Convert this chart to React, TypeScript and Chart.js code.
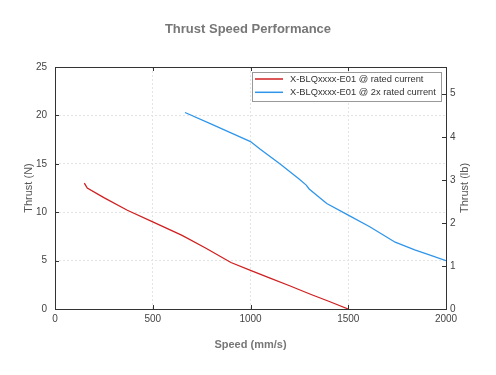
import { useEffect, useRef } from "react";
import { Chart, registerables } from "chart.js";

Chart.register(...registerables);

const chartTitle = "Thrust Speed Performance";
const xTitle = "Speed (mm/s)";
const yTitle = "Thrust (N)";
const y2Title = "Thrust (lb)";

const seriesLabels = [
  "X-BLQxxxx-E01 @ rated current",
  "X-BLQxxxx-E01 @ 2x rated current",
];
const seriesColors = ["#d01f1f", "#2f95ea"];

const ratedSpeed = [150, 165, 250, 370, 500, 650, 770, 900, 1000, 1100, 1200, 1310, 1400, 1500];
const ratedThrust = [13.0, 12.5, 11.5, 10.2, 9.0, 7.6, 6.3, 4.8, 4.0, 3.2, 2.4, 1.5, 0.8, 0.0];

const doubleSpeed = [665, 800, 900, 1000, 1050, 1150, 1250, 1285, 1300, 1390, 1500, 1610, 1740, 1840, 1900, 2000];
const doubleThrust = [20.3, 19.1, 18.2, 17.3, 16.5, 15.0, 13.4, 12.8, 12.4, 10.9, 9.7, 8.5, 6.9, 6.1, 5.7, 5.0];

const xTicks = [0, 500, 1000, 1500, 2000];
const yTicks = [0, 5, 10, 15, 20, 25];
const lbTicks = [0, 1, 2, 3, 4, 5];
const N_PER_LB = 4.44822;

const FONT = "Arial, 'Liberation Sans', sans-serif";

export default function App() {
  const ref = useRef<HTMLCanvasElement>(null);

  useEffect(() => {
    const canvas = ref.current;
    if (!canvas) return;

    const decor = {
      id: "decor",
      afterDatasetsDraw(chart: any) {
        const ctx = chart.ctx;
        const a = chart.chartArea;
        const sx = chart.scales.x;
        const sy = chart.scales.y;
        const sy2 = chart.scales.y2;
        ctx.save();
        // frame
        ctx.strokeStyle = "#333";
        ctx.lineWidth = 1;
        ctx.setLineDash([]);
        ctx.strokeRect(Math.round(a.left) + 0.5, Math.round(a.top) + 0.5, Math.round(a.right - a.left), Math.round(a.bottom - a.top));
        // inner tick marks
        const tl = 4;
        ctx.beginPath();
        xTicks.forEach((v) => {
          const px = Math.round(sx.getPixelForValue(v)) + 0.5;
          ctx.moveTo(px, a.bottom);
          ctx.lineTo(px, a.bottom - tl);
          ctx.moveTo(px, a.top);
          ctx.lineTo(px, a.top + tl);
        });
        yTicks.forEach((v) => {
          const py = Math.round(sy.getPixelForValue(v)) + 0.5;
          ctx.moveTo(a.left, py);
          ctx.lineTo(a.left + tl, py);
        });
        lbTicks.forEach((v) => {
          const py = Math.round(sy2.getPixelForValue(v)) + 0.5;
          ctx.moveTo(a.right, py);
          ctx.lineTo(a.right - tl, py);
        });
        ctx.stroke();

        // legend
        const bx = 252, by = 72, bw = 189, bh = 29;
        ctx.fillStyle = "#fff";
        ctx.fillRect(bx, by, bw, bh);
        ctx.strokeStyle = "#999";
        ctx.strokeRect(bx + 0.5, by + 0.5, bw, bh);
        ctx.font = `9.3px ${FONT}`;
        ctx.textBaseline = "middle";
        ctx.textAlign = "left";
        chart.data.datasets.forEach((ds: any, i: number) => {
          const ly = by + 7 + i * 13.3;
          ctx.strokeStyle = ds.borderColor;
          ctx.lineWidth = 1.5;
          ctx.beginPath();
          ctx.moveTo(bx + 3, ly);
          ctx.lineTo(bx + 31, ly);
          ctx.stroke();
          ctx.fillStyle = "#333";
          ctx.fillText(ds.label, bx + 38, ly + 0.5);
        });

        // right axis title
        ctx.save();
        ctx.translate(465, (a.top + a.bottom) / 2);
        ctx.rotate(-Math.PI / 2);
        ctx.textAlign = "center";
        ctx.textBaseline = "middle";
        ctx.fillStyle = "#555";
        ctx.font = `11px ${FONT}`;
        ctx.fillText(y2Title, 0, 0);
        ctx.restore();
        ctx.restore();
      },
    };

    const plain = (v: any) => String(v);

    const chart = new Chart(canvas, {
      type: "scatter",
      data: {
        datasets: [
          {
            label: seriesLabels[0],
            data: ratedSpeed.map((x, i) => ({ x, y: ratedThrust[i] })),
            borderColor: seriesColors[0],
            backgroundColor: seriesColors[0],
            showLine: true,
            borderWidth: 1.3,
            pointRadius: 0,
            tension: 0,
            yAxisID: "y",
          },
          {
            label: seriesLabels[1],
            data: doubleSpeed.map((x, i) => ({ x, y: doubleThrust[i] })),
            borderColor: seriesColors[1],
            backgroundColor: seriesColors[1],
            showLine: true,
            borderWidth: 1.3,
            pointRadius: 0,
            tension: 0,
            yAxisID: "y",
          },
        ],
      },
      options: {
        animation: false,
        responsive: true,
        maintainAspectRatio: false,
        layout: { padding: 0 },
        plugins: {
          legend: { display: false },
          tooltip: { enabled: false },
          title: {
            display: true,
            text: chartTitle,
            color: "#777",
            font: { family: FONT, size: 13, weight: "bold", lineHeight: 1.2 },
            padding: { top: 22, bottom: 29.4 },
          },
        },
        scales: {
          x: {
            type: "linear",
            position: "bottom",
            min: 0,
            max: 2000,
            afterBuildTicks: (ax: any) => {
              ax.ticks = xTicks.map((v) => ({ value: v }));
            },
            afterFit: (s: any) => {
              s.height = 66;
            },
            ticks: { color: "#444", font: { family: FONT, size: 10 }, padding: 4, maxRotation: 0, callback: plain },
            grid: { color: "#e4e4e4", drawTicks: false, lineWidth: 1 },
            border: { display: false, dash: [2, 2] },
            title: {
              display: true,
              text: xTitle,
              color: "#777",
              font: { family: FONT, size: 11, weight: "bold", lineHeight: 1.2 },
              padding: { top: 0, bottom: 23.4 },
            },
          },
          y: {
            type: "linear",
            position: "left",
            min: 0,
            max: 25,
            afterBuildTicks: (ax: any) => {
              ax.ticks = yTicks.map((v) => ({ value: v }));
            },
            afterFit: (s: any) => {
              s.width = 55;
            },
            ticks: { color: "#444", font: { family: FONT, size: 10 }, padding: 8, callback: plain },
            grid: { color: "#e4e4e4", drawTicks: false, lineWidth: 1 },
            border: { display: false, dash: [2, 2] },
            title: {
              display: true,
              text: yTitle,
              color: "#555",
              font: { family: FONT, size: 11, lineHeight: 1.2 },
              padding: { top: 21.9, bottom: 0 },
            },
          },
          y2: {
            type: "linear",
            position: "right",
            min: 0,
            max: 25 / N_PER_LB,
            afterBuildTicks: (ax: any) => {
              ax.ticks = lbTicks.map((v) => ({ value: v }));
            },
            afterFit: (s: any) => {
              s.width = 50;
            },
            ticks: { color: "#444", font: { family: FONT, size: 10 }, padding: 4, callback: plain },
            grid: { display: false, drawTicks: false },
            border: { display: false },
          },
        },
      },
      plugins: [decor],
    } as any);

    return () => chart.destroy();
  }, []);

  return (
    <div style={{ position: "fixed", left: 0, top: 0, width: 496, height: 375, background: "#fff" }}>
      <canvas ref={ref} />
    </div>
  );
}
